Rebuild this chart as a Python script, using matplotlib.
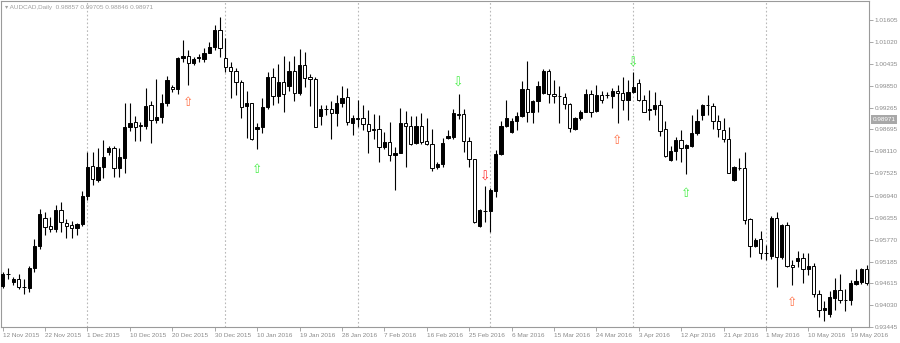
import matplotlib
matplotlib.use("Agg")

import matplotlib.pyplot as plt
import numpy as np


# daily OHLC, AUDCAD (12 Nov 2015 .. 20 May 2016, Sunday bars included)
opens = [
    0.9454, 0.9485, 0.9464, 0.9473, 0.9451, 0.9448, 0.9502, 0.9559, 0.9633, 0.9612,
    0.9604, 0.9655, 0.9622, 0.9615, 0.9607, 0.9617, 0.9693, 0.9772, 0.9736, 0.9770,
    0.9810, 0.9821, 0.9768, 0.9794, 0.9877, 0.9890, 0.9881, 0.9879, 0.9935, 0.9896,
    0.9903, 0.9939, 0.9983, 0.9977, 1.0060, 1.0066, 1.0045, 1.0060, 1.0058, 1.0073,
    1.0088, 1.0134, 1.0060, 1.0035, 1.0025, 0.9996, 0.9932, 0.9939, 0.9871, 0.9877,
    0.9930, 1.0010, 0.9959, 0.9995, 0.9985, 1.0025, 0.9966, 1.0041, 1.0008, 1.0004,
    0.9905, 0.9924, 0.9925, 0.9914, 0.9939, 0.9957, 0.9887, 0.9899, 0.9899, 0.9883,
    0.9870, 0.9871, 0.9823, 0.9835, 0.9801, 0.9808, 0.9886, 0.9878, 0.9834, 0.9878,
    0.9839, 0.9832, 0.9770, 0.9779, 0.9848, 0.9850, 0.9910, 0.9910, 0.9839, 0.9790,
    0.9613, 0.9653, 0.9652, 0.9706, 0.9804, 0.9878, 0.9862, 0.9892, 0.9905, 0.9977,
    0.9917, 0.9944, 0.9967, 1.0026, 0.9963, 0.9959, 0.9957, 0.9936, 0.9870, 0.9899,
    0.9917, 0.9964, 0.9918, 0.9961, 0.9960, 0.9959, 0.9971, 0.9966, 0.9948, 0.9970,
    0.9992, 0.9949, 0.9920, 0.9925, 0.9935, 0.9870, 0.9788, 0.9813, 0.9841, 0.9821,
    0.9826, 0.9859, 0.9908, 0.9935, 0.9933, 0.9892, 0.9868, 0.9844, 0.9735, 0.9766,
    0.9766, 0.9631, 0.9559, 0.9578, 0.9542, 0.9533, 0.9635, 0.9531, 0.9615, 0.9510,
    0.9519, 0.9528, 0.9498, 0.9506, 0.9431, 0.9389, 0.9380, 0.9422, 0.9444, 0.9417,
    0.9415, 0.9460, 0.9463, 0.9498,
]
highs = [
    0.9491, 0.9502, 0.9478, 0.9486, 0.9473, 0.9507, 0.9578, 0.9659, 0.9650, 0.9637,
    0.9670, 0.9677, 0.9631, 0.9626, 0.9622, 0.9706, 0.9810, 0.9810, 0.9819, 0.9841,
    0.9825, 0.9825, 0.9821, 0.9939, 0.9939, 0.9906, 0.9890, 0.9980, 0.9945, 1.0005,
    0.9963, 1.0012, 0.9987, 1.0063, 1.0107, 1.0081, 1.0063, 1.0069, 1.0085, 1.0103,
    1.0147, 1.0168, 1.0113, 1.0050, 1.0032, 1.0001, 0.9971, 0.9941, 0.9887, 0.9952,
    1.0021, 1.0034, 1.0043, 1.0064, 1.0051, 1.0066, 1.0083, 1.0076, 1.0016, 1.0010,
    0.9935, 0.9935, 0.9944, 0.9961, 0.9985, 0.9980, 0.9908, 0.9948, 0.9935, 0.9921,
    0.9910, 0.9908, 0.9862, 0.9890, 0.9824, 0.9927, 0.9918, 0.9905, 0.9905, 0.9912,
    0.9901, 0.9872, 0.9783, 0.9847, 0.9868, 0.9923, 0.9964, 0.9924, 0.9850, 0.9792,
    0.9657, 0.9720, 0.9713, 0.9815, 0.9892, 0.9948, 0.9899, 0.9917, 0.9998, 1.0051,
    0.9949, 0.9998, 1.0030, 1.0030, 1.0001, 0.9985, 0.9966, 0.9941, 0.9903, 0.9921,
    0.9977, 0.9974, 0.9989, 0.9971, 0.9968, 0.9980, 0.9987, 1.0010, 1.0001, 1.0021,
    1.0005, 0.9961, 0.9974, 0.9968, 0.9948, 0.9892, 0.9826, 0.9850, 0.9868, 0.9832,
    0.9909, 0.9925, 0.9936, 0.9961, 0.9941, 0.9908, 0.9901, 0.9877, 0.9773, 0.9794,
    0.9810, 0.9634, 0.9580, 0.9599, 0.9562, 0.9639, 0.9650, 0.9619, 0.9624, 0.9522,
    0.9546, 0.9540, 0.9540, 0.9515, 0.9442, 0.9413, 0.9439, 0.9475, 0.9486, 0.9446,
    0.9469, 0.9498, 0.9500, 0.9510,
]
lows = [
    0.9448, 0.9473, 0.9455, 0.9445, 0.9431, 0.9438, 0.9491, 0.9553, 0.9588, 0.9596,
    0.9596, 0.9597, 0.9581, 0.9581, 0.9589, 0.9613, 0.9682, 0.9721, 0.9730, 0.9740,
    0.9803, 0.9743, 0.9743, 0.9753, 0.9865, 0.9839, 0.9839, 0.9872, 0.9834, 0.9887,
    0.9886, 0.9933, 0.9968, 0.9963, 1.0049, 0.9987, 1.0041, 1.0049, 1.0049, 1.0072,
    1.0081, 1.0063, 1.0021, 0.9954, 0.9961, 0.9900, 0.9846, 0.9841, 0.9817, 0.9859,
    0.9924, 0.9935, 0.9941, 0.9917, 0.9971, 0.9944, 0.9961, 0.9983, 0.9933, 0.9877,
    0.9881, 0.9908, 0.9844, 0.9878, 0.9930, 0.9881, 0.9855, 0.9877, 0.9868, 0.9808,
    0.9844, 0.9783, 0.9817, 0.9785, 0.9708, 0.9806, 0.9770, 0.9828, 0.9830, 0.9832,
    0.9828, 0.9759, 0.9764, 0.9770, 0.9844, 0.9844, 0.9897, 0.9810, 0.9770, 0.9622,
    0.9611, 0.9624, 0.9596, 0.9690, 0.9801, 0.9877, 0.9859, 0.9868, 0.9903, 0.9890,
    0.9888, 0.9915, 0.9963, 0.9941, 0.9941, 0.9886, 0.9925, 0.9862, 0.9868, 0.9894,
    0.9915, 0.9903, 0.9915, 0.9941, 0.9952, 0.9927, 0.9888, 0.9921, 0.9894, 0.9966,
    0.9945, 0.9915, 0.9894, 0.9909, 0.9853, 0.9797, 0.9785, 0.9788, 0.9783, 0.9750,
    0.9824, 0.9856, 0.9894, 0.9908, 0.9872, 0.9850, 0.9835, 0.9753, 0.9733, 0.9761,
    0.9619, 0.9531, 0.9557, 0.9526, 0.9522, 0.9526, 0.9451, 0.9526, 0.9504, 0.9457,
    0.9504, 0.9462, 0.9484, 0.9424, 0.9371, 0.9360, 0.9371, 0.9389, 0.9407, 0.9386,
    0.9402, 0.9455, 0.9460, 0.9455,
]
closes = [
    0.9486, 0.9486, 0.9473, 0.9451, 0.9452, 0.9502, 0.9559, 0.9644, 0.9611, 0.9604,
    0.9655, 0.9624, 0.9613, 0.9608, 0.9617, 0.9693, 0.9770, 0.9737, 0.9770, 0.9797,
    0.9819, 0.9768, 0.9797, 0.9875, 0.9888, 0.9877, 0.9880, 0.9933, 0.9896, 0.9903,
    0.9939, 1.0001, 0.9978, 1.0060, 1.0066, 1.0045, 1.0058, 1.0061, 1.0073, 1.0088,
    1.0134, 1.0085, 1.0035, 1.0025, 0.9995, 0.9930, 0.9939, 0.9844, 0.9877, 0.9930,
    1.0010, 0.9959, 0.9995, 0.9964, 1.0025, 0.9966, 1.0041, 1.0007, 1.0004, 0.9877,
    0.9923, 0.9925, 0.9912, 0.9939, 0.9954, 0.9890, 0.9899, 0.9898, 0.9883, 0.9866,
    0.9869, 0.9824, 0.9835, 0.9801, 0.9808, 0.9886, 0.9878, 0.9830, 0.9878, 0.9835,
    0.9832, 0.9768, 0.9779, 0.9834, 0.9852, 0.9912, 0.9909, 0.9839, 0.9790, 0.9624,
    0.9655, 0.9652, 0.9708, 0.9804, 0.9878, 0.9899, 0.9892, 0.9905, 0.9977, 0.9917,
    0.9944, 0.9985, 1.0026, 0.9964, 0.9959, 0.9958, 0.9936, 0.9874, 0.9899, 0.9917,
    0.9964, 0.9917, 0.9961, 0.9949, 0.9961, 0.9973, 0.9966, 0.9948, 0.9970, 0.9983,
    0.9948, 0.9917, 0.9925, 0.9935, 0.9866, 0.9800, 0.9813, 0.9841, 0.9819, 0.9828,
    0.9859, 0.9892, 0.9935, 0.9934, 0.9892, 0.9870, 0.9844, 0.9755, 0.9770, 0.9767,
    0.9628, 0.9560, 0.9577, 0.9542, 0.9541, 0.9635, 0.9531, 0.9615, 0.9507, 0.9504,
    0.9528, 0.9498, 0.9506, 0.9431, 0.9389, 0.9395, 0.9424, 0.9444, 0.9415, 0.9416,
    0.9462, 0.9467, 0.9498, 0.9462,
]

date_labels = [
    "12 Nov 2015", "22 Nov 2015", "1 Dec 2015", "10 Dec 2015", "20 Dec 2015",
    "30 Dec 2015", "10 Jan 2016", "19 Jan 2016", "28 Jan 2016", "7 Feb 2016",
    "16 Feb 2016", "25 Feb 2016", "6 Mar 2016", "15 Mar 2016", "24 Mar 2016",
    "3 Apr 2016", "12 Apr 2016", "21 Apr 2016", "1 May 2016", "10 May 2016",
    "19 May 2016",
]
date_label_bars = list(range(0, 161, 8))
month_start_bars = [16, 42, 67, 92, 119, 144]

price_ticks = [1.01605, 1.01020, 1.00435, 0.99850, 0.99265, 0.98695, 0.98110,
               0.97525, 0.96940, 0.96355, 0.95770, 0.95185, 0.94615, 0.94030, 0.93445]
last_price = 0.98971
header = "AUDCAD,Daily  0.98857 0.99705 0.98846 0.98971"

# signal arrows: bar, price, direction, colour kind
arrow_bars = [35, 48, 86, 91, 116, 119, 129, 149]
arrow_prices = [0.99424, 0.97642, 0.99929, 0.97429, 0.98413, 1.00461, 0.97003, 0.94104]
arrow_dirs = ["up", "up", "down", "down", "up", "down", "up", "up"]
arrow_kinds = ["buy", "green", "green", "sell", "buy", "green", "green", "buy"]

ARROW_COLOR = {"green": "#44ee44", "buy": "#ff6f45", "sell": "#ff2e2e"}
ARROW_CHAR = {"up": "\u21e7", "down": "\u21e9"}
GREY = "#9a9a9a"
TEXT = "#8a8a8a"

plt.rcParams["font.family"] = ["Liberation Sans", "DejaVu Sans"]

fig = plt.figure(figsize=(9, 3.43), dpi=100)
ax = fig.add_axes([1 / 900, 16 / 343, 868 / 900, 326 / 343])

o = np.array(opens)
h = np.array(highs)
l = np.array(lows)
c = np.array(closes)
x = np.arange(len(o))
up = c >= o

ax.vlines(x, l, h, color="black", lw=0.8, zorder=2)
bottoms = np.minimum(o, c)
heights = np.maximum(np.abs(c - o), 0.00003)
ax.bar(x, heights, bottom=bottoms, width=0.62,
       color=np.where(up, "black", "white"), edgecolor="black", lw=0.7, zorder=3)

for b in month_start_bars:
    ax.axvline(b, color="#b8b8b8", lw=0.8, ls=(0, (1.5, 2)), zorder=1)

for b, p, d, k in zip(arrow_bars, arrow_prices, arrow_dirs, arrow_kinds):
    ax.text(b, p, ARROW_CHAR[d], color=ARROW_COLOR[k], fontsize=9,
            ha="center", va="center", family="DejaVu Sans", zorder=4)

ax.set_xlim(-0.32, 163.45)
ax.set_ylim(0.93445, 1.0211)

ax.yaxis.tick_right()
ax.set_yticks(price_ticks)
ax.set_yticklabels([f"{p:.5f}" for p in price_ticks])
ax.set_xticks(date_label_bars)
ax.set_xticklabels(date_labels, ha="left")
ax.tick_params(axis="both", colors=GREY, labelcolor=TEXT, labelsize=4.6,
               length=3, width=0.6, pad=1.2)
for sp in ax.spines.values():
    sp.set_color(GREY)
    sp.set_linewidth(0.8)

# current price tag on the price scale
ax.annotate(f"{last_price:.5f}", xy=(1.0, last_price), xycoords=("axes fraction", "data"),
            xytext=(2.5, 0), textcoords="offset points", fontsize=4.6, color="white",
            va="center", ha="left",
            bbox=dict(boxstyle="square,pad=0.3", fc="#a8a8a8", ec="none"))

fig.text(5 / 900, 1 - 7 / 343, "\u25be " + header, fontsize=4.6, color="#a0a0a0",
         va="center", ha="left")

fig.savefig("out.png", dpi=100)
plt.close(fig)
